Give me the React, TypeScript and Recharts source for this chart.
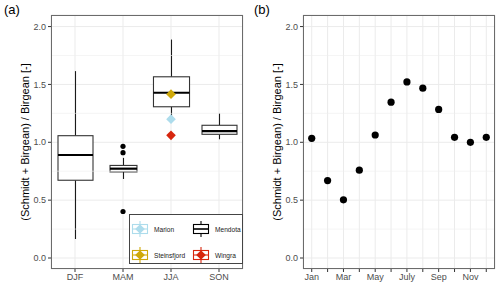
import React from 'react';
import {
  ComposedChart,
  ScatterChart,
  Bar,
  Scatter,
  XAxis,
  YAxis,
  CartesianGrid,
  ReferenceLine,
} from 'recharts';

// ---------- data ----------
const seasons = ['DJF', 'MAM', 'JJA', 'SON'];
const whiskerLow = [0.164, 0.683, 1.22, 1.026];
const quartile1 = [0.672, 0.744, 1.307, 1.069];
const medians = [0.89, 0.772, 1.428, 1.097];
const quartile3 = [1.057, 0.8, 1.566, 1.147];
const whiskerHigh = [1.615, 0.865, 1.888, 1.25];

const outlierSeasons = ['MAM', 'MAM', 'MAM'];
const outlierValues = [0.965, 0.91, 0.402];

const lakeNames = ['Marion', 'Steinsfjord', 'Wingra'];
const lakeSeason = 'JJA';
const lakeValues = [1.2, 1.416, 1.06];

const monthNumbers = [1, 2, 3, 4, 5, 6, 7, 8, 9, 10, 11, 12];
const monthLabels = ['Jan', '', 'Mar', '', 'May', '', 'July', '', 'Sep', '', 'Nov', ''];
const monthlyRatio = [1.034, 0.669, 0.503, 0.759, 1.063, 1.347, 1.522, 1.468, 1.284, 1.043, 1.0, 1.043];

const yTicks = [0, 0.5, 1, 1.5, 2];
const yMinor = [0.25, 0.75, 1.25, 1.75];
const yDomain = [-0.095, 2.1];
const xMonthDomain = [0.45, 12.55];

const yTitle = '(Schmidt + Birgean) / Birgean [-]';

// ---------- styles ----------
const FONT = '"Liberation Sans", Arial, Helvetica, sans-serif';
const lakeColors: Record<string, string> = {
  Marion: '#ADDCEC',
  Steinsfjord: '#CFA90A',
  Wingra: '#D7260E',
};
const boxWidthFactor: Record<string, number> = { DJF: 1, MAM: 0.77, JJA: 1.03, SON: 1 };

// ---------- tables ----------
const boxTable = seasons.map((s, i) => {
  const row: any = {
    season: s,
    box: [quartile1[i], quartile3[i]],
    lo: whiskerLow[i],
    q1: quartile1[i],
    med: medians[i],
    q3: quartile3[i],
    hi: whiskerHigh[i],
  };
  outlierSeasons.forEach((os, j) => {
    if (os === s) row['out' + j] = outlierValues[j];
  });
  if (s === lakeSeason) {
    lakeNames.forEach((l, j) => {
      row[l] = lakeValues[j];
    });
  }
  return row;
});

const monthTable = monthNumbers.map((m, i) => ({ month: m, ratio: monthlyRatio[i] }));

// ---------- shapes ----------
const BoxShape = (props: any) => {
  const { x, y, width, height, payload } = props;
  if (![x, y, width, height].every((v) => Number.isFinite(v))) return <g />;
  const top = Math.min(y, y + height);
  const bot = Math.max(y, y + height);
  const k = (bot - top) / (payload.q3 - payload.q1);
  const py = (v: number) => bot - (v - payload.q1) * k;
  const cx = x + width / 2;
  const w = width * (boxWidthFactor[payload.season] ?? 1);
  return (
    <g>
      <line x1={cx} x2={cx} y1={py(payload.hi)} y2={top} stroke="#1a1a1a" strokeWidth={1.1} />
      <line x1={cx} x2={cx} y1={bot} y2={py(payload.lo)} stroke="#1a1a1a" strokeWidth={1.1} />
      <rect x={cx - w / 2} y={top} width={w} height={bot - top} fill="#ffffff" stroke="#333333" strokeWidth={1.1} />
      <line x1={cx - w / 2} x2={cx + w / 2} y1={py(payload.med)} y2={py(payload.med)} stroke="#000000" strokeWidth={2.2} />
    </g>
  );
};

const dotShape = (r: number, color: string) => (props: any) => {
  const { cx, cy } = props;
  if (!Number.isFinite(cx) || !Number.isFinite(cy)) return <g />;
  return <circle cx={cx} cy={cy} r={r} fill={color} />;
};

const diamondShape = (color: string) => (props: any) => {
  const { cx, cy } = props;
  if (!Number.isFinite(cx) || !Number.isFinite(cy)) return <g />;
  const r = 4.8;
  return (
    <polygon
      points={`${cx},${cy - r} ${cx + r},${cy} ${cx},${cy + r} ${cx - r},${cy}`}
      fill={color}
    />
  );
};

// ---------- legend ----------
const KeyGlyph = ({ color, diamond }: { color: string; diamond: boolean }) => (
  <svg width={18} height={18} style={{ display: 'block' }}>
    <line x1={9} x2={9} y1={1} y2={17} stroke={color} strokeWidth={1.1} />
    <rect x={1.5} y={4.5} width={15} height={9} fill="#fff" stroke={color} strokeWidth={1.1} />
    <line x1={1.5} x2={16.5} y1={9} y2={9} stroke={color} strokeWidth={diamond ? 1.1 : 1.6} />
    {diamond && <polygon points="9,4.2 13.8,9 9,13.8 4.2,9" fill={color} />}
  </svg>
);

const legendItems = [
  { name: 'Marion', color: lakeColors.Marion, diamond: true, left: 131, top: 220 },
  { name: 'Mendota', color: '#000000', diamond: false, left: 192, top: 220 },
  { name: 'Steinsfjord', color: lakeColors.Steinsfjord, diamond: true, left: 131, top: 246 },
  { name: 'Wingra', color: lakeColors.Wingra, diamond: true, left: 192, top: 246 },
];

const tickStyle = { fill: '#4D4D4D', fontSize: 9, fontFamily: FONT };

const PanelLabel = ({ text, left }: { text: string; left: number }) => (
  <div
    style={{
      position: 'absolute',
      left,
      top: 2,
      fontFamily: FONT,
      fontSize: 13,
      lineHeight: '15px',
      color: '#000',
    }}
  >
    {text}
  </div>
);

export default function App() {
  return (
    <div style={{ position: 'absolute', left: 0, top: 0, width: 500, height: 288, background: '#fff', overflow: 'hidden' }}>
      {/* Panel (a) */}
      <div style={{ position: 'absolute', left: 0, top: 0 }}>
        <ComposedChart
          width={250}
          height={288}
          data={boxTable}
          margin={{ top: 15, right: 7, bottom: 0, left: 21 }}
          barSize={35}
        >
          <CartesianGrid stroke="#EBEBEB" strokeWidth={1} />
          {yMinor.map((v) => (
            <ReferenceLine key={v} y={v} stroke="#EFEFEF" strokeWidth={0.6} ifOverflow="hidden" />
          ))}
          <XAxis
            dataKey="season"
            type="category"
            height={19}
            tickSize={3}
            tickLine={{ stroke: '#333' }}
            axisLine={false}
            tick={tickStyle}
            interval={0}
          />
          <YAxis
            type="number"
            domain={yDomain}
            ticks={yTicks}
            width={30}
            tickSize={3}
            tickLine={{ stroke: '#333' }}
            axisLine={false}
            tick={tickStyle}
            tickFormatter={(v: number) => v.toFixed(1)}
            allowDataOverflow
            label={{
              value: yTitle,
              angle: -90,
              position: 'insideLeft',
              offset: 4,
              style: { textAnchor: 'middle', fontSize: 11, fontFamily: FONT, fill: '#000' },
            }}
          />
          <Bar dataKey="box" shape={<BoxShape />} isAnimationActive={false} />
          {outlierSeasons.map((_, j) => (
            <Scatter key={'out' + j} dataKey={'out' + j} shape={dotShape(2.6, '#000')} isAnimationActive={false} />
          ))}
          {lakeNames.map((l) => (
            <Scatter key={l} dataKey={l} shape={diamondShape(lakeColors[l])} isAnimationActive={false} />
          ))}
        </ComposedChart>
      </div>
      <div
        style={{
          position: 'absolute',
          left: 51,
          top: 15,
          width: 192,
          height: 254,
          border: '1px solid #6b6b6b',
          boxSizing: 'border-box',
          pointerEvents: 'none',
        }}
      />
      {/* legend */}
      <div
        style={{
          position: 'absolute',
          left: 129,
          top: 214,
          width: 114,
          height: 50,
          border: '1px solid #444',
          boxSizing: 'border-box',
          background: '#fff',
        }}
      />
      {legendItems.map((it) => (
        <div key={it.name} style={{ position: 'absolute', left: it.left, top: it.top, display: 'flex', alignItems: 'center' }}>
          <KeyGlyph color={it.color} diamond={it.diamond} />
          <span style={{ marginLeft: 5, fontFamily: FONT, fontSize: 6.6, color: '#1a1a1a', whiteSpace: 'nowrap' }}>{it.name}</span>
        </div>
      ))}
      <PanelLabel text="(a)" left={4} />

      {/* Panel (b) */}
      <div style={{ position: 'absolute', left: 250, top: 0 }}>
        <ScatterChart width={250} height={288} margin={{ top: 15, right: 5, bottom: 0, left: 23 }}>
          <CartesianGrid stroke="#EBEBEB" strokeWidth={1} />
          {yMinor.map((v) => (
            <ReferenceLine key={v} y={v} stroke="#EFEFEF" strokeWidth={0.6} ifOverflow="hidden" />
          ))}
          <XAxis
            dataKey="month"
            type="number"
            domain={xMonthDomain}
            ticks={monthNumbers}
            interval={0}
            allowDataOverflow
            height={19}
            tickSize={3}
            tickLine={{ stroke: '#333' }}
            axisLine={false}
            tick={tickStyle}
            tickFormatter={(v: number) => monthLabels[v - 1] ?? ''}
          />
          <YAxis
            dataKey="ratio"
            type="number"
            domain={yDomain}
            ticks={yTicks}
            width={30}
            tickSize={3}
            tickLine={{ stroke: '#333' }}
            axisLine={false}
            tick={tickStyle}
            tickFormatter={(v: number) => v.toFixed(1)}
            allowDataOverflow
            label={{
              value: yTitle,
              angle: -90,
              position: 'insideLeft',
              offset: 4,
              style: { textAnchor: 'middle', fontSize: 11, fontFamily: FONT, fill: '#000' },
            }}
          />
          <Scatter data={monthTable} dataKey="ratio" shape={dotShape(3.6, '#000')} isAnimationActive={false} />
        </ScatterChart>
      </div>
      <div
        style={{
          position: 'absolute',
          left: 303,
          top: 15,
          width: 192,
          height: 254,
          border: '1px solid #6b6b6b',
          boxSizing: 'border-box',
          pointerEvents: 'none',
        }}
      />
      <PanelLabel text="(b)" left={254} />
    </div>
  );
}
